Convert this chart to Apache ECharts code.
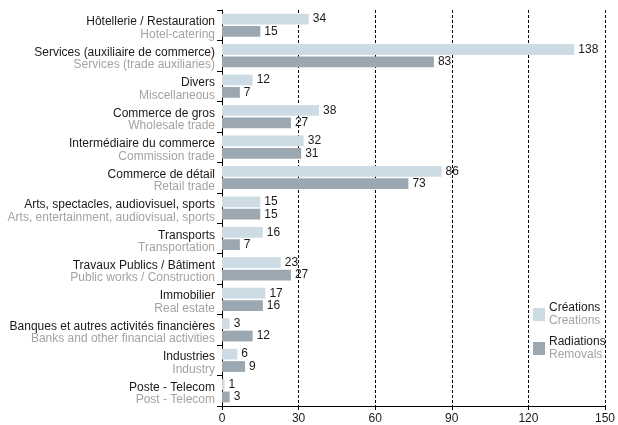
<!DOCTYPE html>
<html>
<head>
<meta charset="utf-8">
<script src="https://cdn.jsdelivr.net/npm/echarts@6/dist/echarts.min.js"></script>
<style>
  html, body { margin: 0; padding: 0; background: #fff; }
  #chart { width: 618px; height: 425px; }
</style>
</head>
<body>
<div id="chart"></div>
<script>
// Sector labels (French first line, English second line)
const sectorsFr = [
  'Hôtellerie / Restauration',
  'Services (auxiliaire de commerce)',
  'Divers',
  'Commerce de gros',
  'Intermédiaire du commerce',
  'Commerce de détail',
  'Arts, spectacles, audiovisuel, sports',
  'Transports',
  'Travaux Publics / Bâtiment',
  'Immobilier',
  'Banques et autres activités financières',
  'Industries',
  'Poste - Telecom'
];
const sectorsEn = [
  'Hotel-catering',
  'Services (trade auxiliaries)',
  'Miscellaneous',
  'Wholesale trade',
  'Commission trade',
  'Retail trade',
  'Arts, entertainment, audiovisual, sports',
  'Transportation',
  'Public works / Construction',
  'Real estate',
  'Banks and other financial activities',
  'Industry',
  'Post - Telecom'
];
// Company creations and removals per sector
const creations = [34, 138, 12, 38, 32, 86, 15, 16, 23, 17, 3, 6, 1];
const removals  = [15, 83, 7, 27, 31, 73, 15, 7, 27, 16, 12, 9, 3];
// Legend entries
const seriesFr = ['Créations', 'Radiations'];
const seriesEn = ['Creations', 'Removals'];
// Value axis ticks
const xMin = 0, xMax = 150, xStep = 30;

const FONT = '"Liberation Sans", Arial, Helvetica, sans-serif';
const LIGHT = '#cddce4';
const DARK = '#9ba8b1';
const INK = '#1a1a1a';
const GREY = '#a3a3a3';

const chart = echarts.init(document.getElementById('chart'), null, { renderer: 'canvas' });

const valueLabel = {
  show: true,
  position: 'right',
  distance: 4,
  color: INK,
  fontSize: 12,
  fontFamily: FONT
};

chart.setOption({
  animation: false,
  backgroundColor: '#ffffff',
  grid: { left: 222, right: 12, top: 10, bottom: 18, containLabel: false },
  legend: {
    orient: 'vertical',
    left: 533,
    top: 302,
    padding: 0,
    itemWidth: 12,
    itemHeight: 13,
    itemGap: 9,
    icon: 'rect',
    data: seriesFr,
    formatter: function (name) {
      const i = seriesFr.indexOf(name);
      return '{a|' + seriesFr[i] + '}\n{b|' + seriesEn[i] + '}';
    },
    textStyle: {
      fontFamily: FONT,
      padding: [0, 0, 0, -1],
      rich: {
        a: { fontSize: 12, color: INK, lineHeight: 13, fontFamily: FONT },
        b: { fontSize: 12, color: GREY, lineHeight: 13, fontFamily: FONT }
      }
    }
  },
  xAxis: {
    type: 'value',
    min: xMin,
    max: xMax,
    interval: xStep,
    axisLine: { show: true, lineStyle: { color: '#000', width: 1 } },
    axisTick: { show: true, length: 4, lineStyle: { color: '#000' } },
    axisLabel: { color: INK, fontSize: 12, fontFamily: FONT, margin: 7 },
    splitLine: { show: true, lineStyle: { color: '#000', type: [3, 2], width: 1 } }
  },
  yAxis: {
    type: 'category',
    inverse: true,
    data: sectorsFr,
    axisLine: { show: true, lineStyle: { color: '#000', width: 1 } },
    axisTick: { show: true, length: 5, lineStyle: { color: '#000' } },
    axisLabel: {
      margin: 7,
      align: 'right',
      fontFamily: FONT,
      padding: [6, 0, 0, 0],
      formatter: function (value, index) {
        return '{a|' + value + '}\n{b|' + sectorsEn[index] + '}';
      },
      rich: {
        a: { fontSize: 12, color: INK, lineHeight: 12.5, fontFamily: FONT, align: 'right' },
        b: { fontSize: 12, color: GREY, lineHeight: 12.5, fontFamily: FONT, align: 'right' }
      }
    }
  },
  series: [
    {
      name: seriesFr[0],
      type: 'bar',
      data: creations,
      barCategoryGap: '24%',
      barGap: '15%',
      itemStyle: { color: LIGHT },
      label: valueLabel
    },
    {
      name: seriesFr[1],
      type: 'bar',
      data: removals,
      barCategoryGap: '24%',
      barGap: '15%',
      itemStyle: { color: DARK },
      label: valueLabel
    }
  ]
});
</script>
</body>
</html>
